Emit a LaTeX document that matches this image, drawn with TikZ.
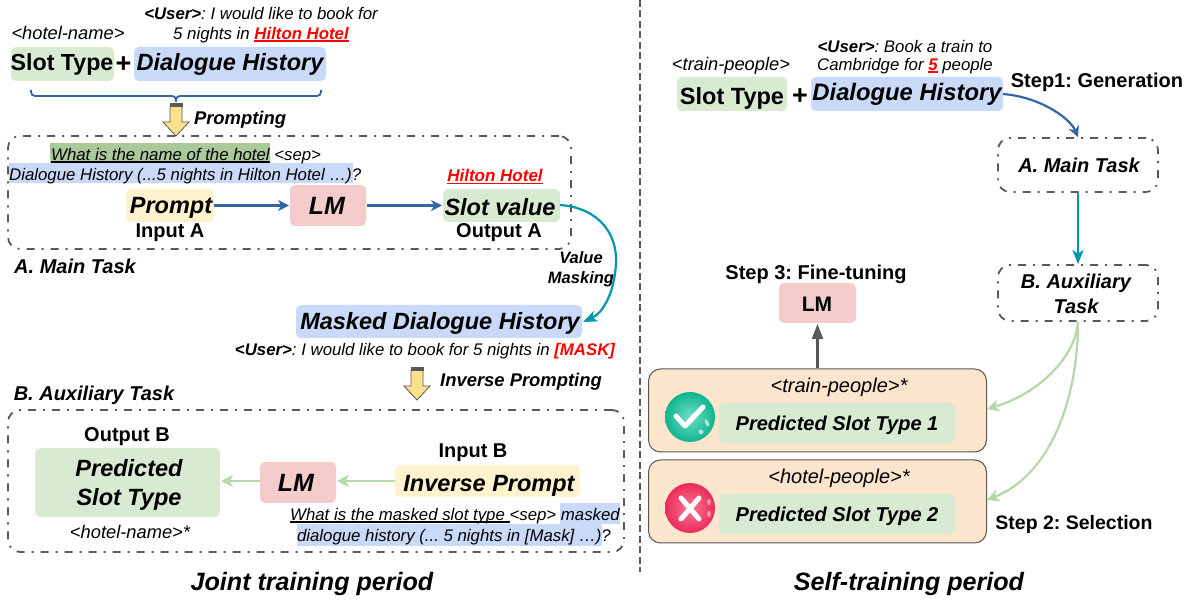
\documentclass[tikz,border=0pt]{standalone}
\usepackage{fontspec}
\setmainfont{Liberation Sans}
\usetikzlibrary{arrows.meta,calc}
\definecolor{gbox}{HTML}{D9EAD3}
\definecolor{bbox}{HTML}{C9DAF8}
\definecolor{ybox}{HTML}{FFF2CC}
\definecolor{rbox}{HTML}{F4CCCC}
\definecolor{obox}{HTML}{FCE5CD}
\definecolor{dgreen}{HTML}{A9C99A}
\definecolor{lgarrow}{HTML}{B6D7A8}
\definecolor{blueline}{HTML}{3465A4}
\definecolor{tealline}{HTML}{0097A7}
\definecolor{darkgray}{HTML}{595959}
\definecolor{yarrow}{HTML}{FFE08A}
\newcommand{\fs}[1]{\fontsize{#1}{#1}\selectfont\frenchspacing}
\newcommand{\ulbar}[2][black]{\setbox0\hbox{#2}\rlap{\textcolor{#1}{\rule[-2.6pt]{\wd0}{1.6pt}}}\box0\relax}
\tikzset{
  x=1pt,y=-1pt,
  txt/.style={inner sep=0pt,align=center,yshift=-2pt},
  sm/.style={txt,font=\fs{16.8}\itshape},
  tag/.style={txt,font=\fs{18.3}\itshape},
  lab/.style={txt,font=\fs{20}\bfseries},
  labi/.style={txt,font=\fs{20}\bfseries\itshape},
  small labi/.style={txt,font=\fs{18.4}\bfseries\itshape},
  big/.style={txt,font=\fs{23.5}\bfseries\itshape},
  title/.style={txt,font=\fs{25.1}\bfseries\itshape},
  dashbox/.style={draw=darkgray,line width=1.8pt,rounded corners=12pt,dash pattern=on 8pt off 7pt on 2pt off 7pt},
  orange box/.style={draw=darkgray,fill=obox,line width=1pt,rounded corners=12pt,minimum width=338pt,minimum height=83pt,inner sep=0pt},
  blockarrow/.style={draw=darkgray,line width=.8pt,fill=yarrow},
  blue arrow/.style={draw=blueline,line width=2.2pt,-{Stealth[length=11pt,width=11pt,inset=3.5pt]}},
  teal arrow/.style={draw=tealline,line width=2.2pt,-{Stealth[length=14pt,width=11pt,inset=3.5pt]}},
  green arrow/.style={draw=lgarrow,line width=2.2pt,-{Stealth[length=12pt,width=12pt,inset=3.5pt]}},
  gray arrow/.style={draw=darkgray,line width=2.2pt,-{Stealth[length=15pt,width=11pt,inset=0pt]}},
}
\newcommand{\bx}[6]{\fill[#2,rounded corners=5pt] (#3,#4) rectangle (#5,#6) coordinate[pos=.5] (#1);}
\newcommand{\blockarr}[3]{%
  \draw[blockarrow] (#1-6,#2+3) -- (#1+6,#2+3) -- (#1+6,#3-14) -- (#1+13,#3-14) -- (#1,#3) -- (#1-13,#3-14) -- (#1-6,#3-14) -- cycle;
  \fill[darkgray] (#1-6.5,#2) rectangle (#1+6.5,#2+4);
}
\begin{document}
\begin{tikzpicture}
\useasboundingbox (0,0) rectangle (1195,601);
\fill[white] (0,0) rectangle (1195,601);
% ---- divider
\coordinate (divtop) at (640,0);
\coordinate (divbot) at (640,572);
\draw[darkgray,line width=1.2pt,dash pattern=on 7pt off 3.5pt] (divtop) -- (divbot);
% ---- left top
\node[tag] (hn) at (68,31) {<hotel-name>};
\node[sm] (u1) at (261,12) {\textbf{<User>}: I would like to book for};
\node[sm] (u2) at (261,33) {5 nights in \textcolor{red}{\textbf{\ulbar[red]{Hilton Hotel}}}};
\bx{st}{gbox}{11}{47}{114}{81}
\node[txt,font=\fs{23.2}\bfseries] (sttext) at (62,63) {Slot Type};
\node[txt,font=\fs{27}\bfseries] (pl) at (123.5,63) {+};
\bx{dh}{bbox}{134}{47}{326}{81}
\node[big] (dhtext) at (230,62.5) {Dialogue History};
\coordinate (bl) at (31,90);
\coordinate (br) at (321,90);
\coordinate (btip) at (176,102);
\draw[blueline,line width=1.8pt,rounded corners=4pt] (bl) -- (31,96) -- (176,96) -- (btip);
\draw[blueline,line width=1.8pt,rounded corners=4pt] (br) -- (321,96) -- (176,96) -- (btip);
\blockarr{176}{103}{136}
\node[small labi] (pr) at (240,118) {Prompting};
% ---- main task
\node[dashbox,minimum width=563pt,minimum height=113pt,inner sep=0pt] (A) at (289.5,192.5) {};
\fill[dgreen] (50,143) rectangle (270,163);
\fill[bbox] (9,163) rectangle (353,183);
\node[sm,anchor=west] (q1) at (51,154) {\ulbar{What is the name of the hotel} <sep>};
\node[sm,anchor=west] (q2) at (9,174) {Dialogue History (...5 nights in Hilton Hotel …)?};
\node[txt,font=\fs{17}\bfseries\itshape,text=red] (hh) at (495,175) {\ulbar[red]{Hilton Hotel}};
\bx{pb}{ybox}{126}{189}{214}{222}
\node[big] (pbt) at (171,206) {Prompt};
\bx{lm1}{rbox}{290}{185}{366}{226}
\node[big,font=\fs{25}\bfseries\itshape] (lm1t) at (327,204) {LM};
\bx{sv}{gbox}{443}{189}{560}{222}
\node[big] (svt) at (500,205) {Slot value};
\draw[blue arrow] (214,205.5) -- (289,205.5);
\draw[blue arrow] (367,205.5) -- (442,205.5);
\node[lab] (ia) at (170,231) {Input A};
\node[lab] (oa) at (499,231) {Output A};
\node[labi] (at) at (75,264) {A. Main Task};
\node[txt,font=\fs{16.5}\bfseries\itshape] (vm) at (581,267) {Value\\[4pt]Masking};
% ---- masked
\bx{mh}{bbox}{296}{305}{582}{338}
\node[big] (mht) at (440,321) {Masked Dialogue History};
\draw[teal arrow] (560,205) .. controls (600,208) and (617,235) .. (616,262) .. controls (615,292) and (603,313) .. (583,322);
\node[sm] (mu) at (425,349) {\textbf{<User>}: I would like to book for 5 nights in \textcolor{red}{\textbf{[MASK]}}};
\blockarr{417}{367}{400}
\node[small labi] (ip) at (521,380) {Inverse Prompting};
\node[labi] (bt) at (94,393) {B. Auxiliary Task};
% ---- aux task
\node[dashbox,minimum width=616pt,minimum height=142pt,inner sep=0pt] (B) at (316,481) {};
\node[lab] (ob) at (127,435) {Output B};
\bx{ps}{gbox}{35}{448}{220}{517}
\node[big] (pst) at (129,483) {Predicted\\[5pt]Slot Type};
\bx{lm2}{rbox}{260}{462}{336}{503}
\node[big,font=\fs{25}\bfseries\itshape] (lm2t) at (296,481) {LM};
\bx{ipb}{ybox}{395}{465}{580}{497}
\node[big] (ipt) at (489,484) {Inverse Prompt};
\node[lab] (ib) at (473,451) {Input B};
\draw[green arrow] (395,481) -- (337,481);
\draw[green arrow] (260,481) -- (221,481);
\node[tag] (hn2) at (130,530) {<hotel-name>*};
\fill[bbox] (560,503) rectangle (620,524);
\fill[bbox] (297,524) rectangle (602,546);
\node[sm,anchor=east] (q3) at (620,514) {\ulbar{What is the masked slot type }<sep> masked};
\node[sm,anchor=east] (q4) at (611,535) {dialogue history (... 5 nights in [Mask] …)?};
\node[title] (jt) at (312,582) {Joint training period};
% ---- right
\node[tag] (tp) at (731,64) {<train-people>};
\node[sm] (ru1) at (905,44) {\textbf{<User>}: Book a train to};
\node[sm] (ru2) at (905,64) {Cambridge for \textcolor{red}{\textbf{\ulbar[red]{5}}} people};
\bx{st2}{gbox}{677}{77}{787}{111}
\node[txt,font=\fs{23.5}\bfseries] (st2t) at (732,96) {Slot Type};
\node[txt,font=\fs{27}\bfseries] (pl2) at (800,95) {+};
\bx{dh2}{bbox}{811}{77}{1003}{111}
\node[big,font=\fs{23.8}\bfseries\itshape] (dh2t) at (907,92.5) {Dialogue History};
\node[lab] (s1) at (1097,80) {Step1: Generation};
\node[dashbox,minimum width=160pt,minimum height=54pt,inner sep=0pt] (ma) at (1078,165) {};
\node[labi] (mat) at (1079,163) {A. Main Task};
\node[dashbox,minimum width=160pt,minimum height=56pt,inner sep=0pt] (au) at (1078,293) {};
\node[labi] (aut) at (1076,291.5) {B. Auxiliary\\[5pt]Task};
\draw[blue arrow] (1003,94) .. controls (1040,97) and (1070,118) .. (ma.north);
\draw[teal arrow] (ma.south) -- (au.north);
\node[lab] (s3) at (816,272) {Step 3: Fine-tuning};
\bx{lm3}{rbox}{779}{283}{856}{323}
\node[txt,font=\fs{21}\bfseries] (lm3t) at (817,302) {LM};
\node[orange box] (o1) at (817.5,410.5) {};
\node[orange box] (o2) at (817.5,501.5) {};
\draw[gray arrow] (o1.north) -- (lm3.south |- 0,324);
\node[tag,font=\fs{20}\itshape] (tps) at (839,385) {<train-people>*};
\bx{g1}{gbox}{719}{403}{955}{443}
\node[labi] (g1t) at (837,423) {Predicted Slot Type 1};
\node[tag,font=\fs{20}\itshape] (hps) at (839,476) {<hotel-people>*};
\bx{g2}{gbox}{719}{494}{955}{534}
\node[labi] (g2t) at (837,514) {Predicted Slot Type 2};
% icons
\definecolor{icga}{HTML}{6FE0C6}\definecolor{icgb}{HTML}{10B48F}
\definecolor{icra}{HTML}{F77A94}\definecolor{icrb}{HTML}{EC2A5A}
\shade[inner color=icga,outer color=icgb] (690,417) circle (25);
\draw[white,line width=5pt,line cap=round,line join=round] (676,416) -- (685,426) -- (703,407);
\fill[white,opacity=.6,rotate around={25:(707,423)}] (707,423) ellipse (1.8 and 4);
\fill[white,opacity=.6] (701,432) circle (2.5);
\shade[inner color=icra,outer color=icrb] (690,508) circle (25);
\draw[white,line width=5pt,line cap=round] (681,498) -- (699,519);
\draw[white,line width=5pt,line cap=round] (699,498) -- (681,519);
\fill[white,opacity=.45] (709,502) ellipse (2 and 3.2);
\fill[white,opacity=.45] (709,514) ellipse (2 and 3.2);
\draw[green arrow] (au.south) .. controls (1075,360) and (1035,395) .. (o1.east |- 0,409);
\draw[green arrow] (au.south) .. controls (1078,400) and (1050,475) .. (o2.east |- 0,500);
\node[lab,font=\fs{19.5}\bfseries] (s2) at (1074,522) {Step 2: Selection};
\node[title] (sf) at (909,582) {Self-training period};
\end{tikzpicture}
\end{document}
